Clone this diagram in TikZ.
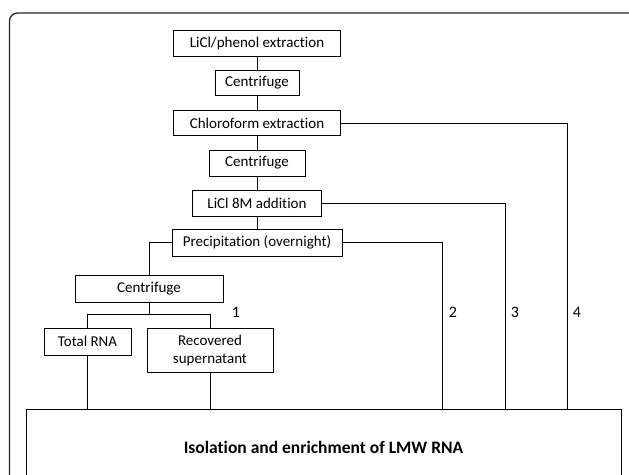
\documentclass[tikz,border=0pt]{standalone}
\usepackage{fontspec}
\setmainfont{Carlito}[Ligatures={NoCommon}]
\begin{document}
\begin{tikzpicture}[x=1pt,y=-1pt,
  box/.style={draw, line width=0.8pt, inner sep=0pt, font=\fontsize{15}{18}\selectfont, align=center},
  conn/.style={line width=0.8pt},
  lab/.style={inner sep=0pt, font=\fontsize{16}{18}\selectfont}]
\useasboundingbox (0,0) rectangle (629,474);
\clip (0,0) rectangle (629,474);
\draw[line width=1.3pt, rounded corners=8pt, color=black!85] (9.5,13) rectangle (645,500);
\node[box, minimum width=167, minimum height=26] (a) at (257,43.5) {LiCl/phenol extraction};
\node[box, minimum width=84, minimum height=25] (c1) at (257,83) {Centrifuge};
\node[box, minimum width=167, minimum height=25] (ch) at (257,123) {Chloroform extraction};
\node[box, minimum width=96, minimum height=26] (c2) at (257,163) {Centrifuge};
\node[box, minimum width=129, minimum height=26] (l8) at (257,203) {LiCl 8M addition};
\node[box, minimum width=170, minimum height=27] (p) at (257,242.5) {Precipitation (overnight)};
\node[box, minimum width=148, minimum height=27] (c3) at (149,288.5) {Centrifuge};
\node[box, minimum width=87, minimum height=27] (t) at (87.5,341.5) {Total RNA};
\node[box, minimum width=126, minimum height=44] (r) at (210,350) {Recovered\\supernatant};
\node[box, minimum width=595, minimum height=76, font=\fontsize{17.5}{20}\selectfont\bfseries] (big) at (323.5,447) {Isolation and enrichment of LMW RNA};
\coordinate (j) at (149,314);
\coordinate (k2) at (442.5,409);
\coordinate (k3) at (505,409);
\coordinate (k4) at (567,409);
\draw[conn] (a.south) -- (c1.north);
\draw[conn] (c1.south) -- (ch.north);
\draw[conn] (ch.south) -- (c2.north);
\draw[conn] (c2.south) -- (l8.north);
\draw[conn] (l8.south) -- (p.north);
\draw[conn] (p.west) -| (c3.north);
\draw[conn] (c3.south) -- (j);
\draw[conn] (t.north) -- (t.north |- j) -- (r.north |- j) -- (r.north);
\draw[conn] (t.south) -- (t.south |- big.north);
\draw[conn] (r.south) -- (r.south |- big.north);
\draw[conn] (p.east) -| (k2);
\draw[conn] (l8.east) -| (k3);
\draw[conn] (ch.east) -| (k4);
\node[lab] (n1) at (236,312) {1};
\node[lab] (n2) at (453,312) {2};
\node[lab] (n3) at (515,312) {3};
\node[lab] (n4) at (577,312) {4};
\end{tikzpicture}
\end{document}
